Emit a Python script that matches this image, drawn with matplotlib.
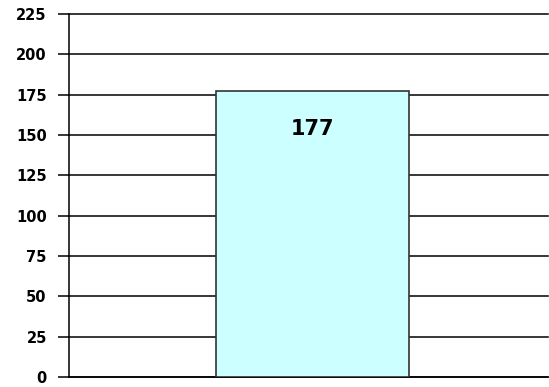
import matplotlib.pyplot as plt
import numpy as np

# data
categories = ['']
values = [177]
yticks = np.arange(0, 226, 25)

fig = plt.figure(figsize=(5.49, 3.87), dpi=100)
ax = fig.add_axes([0.1257, 0.0258, 0.8725, 0.938])

ax.bar([0], values, width=1.0, color='#ccffff', edgecolor='#333333', linewidth=1.2, zorder=3)
for i, v in enumerate(values):
    ax.text(i, v - 23, str(v), ha='center', va='center', fontsize=15,
            fontweight='bold', family='DejaVu Sans', zorder=4)

ax.set_xlim(-1.26, 1.22)
ax.set_ylim(0, 225)
ax.set_yticks(yticks)
ax.set_yticklabels([str(t) for t in yticks], fontsize=10.5, fontweight='bold')
ax.set_xticks([])
ax.yaxis.grid(True, color='black', linewidth=1.1, zorder=0)
for line in ax.get_ygridlines():
    line.set_clip_on(False)
ax.tick_params(axis='y', length=8, width=1.1, pad=8, color='black')

for s in ['top', 'right']:
    ax.spines[s].set_visible(False)
ax.spines['left'].set_linewidth(1.1)
ax.spines['bottom'].set_linewidth(1.1)

plt.savefig('out.png', dpi=100)
